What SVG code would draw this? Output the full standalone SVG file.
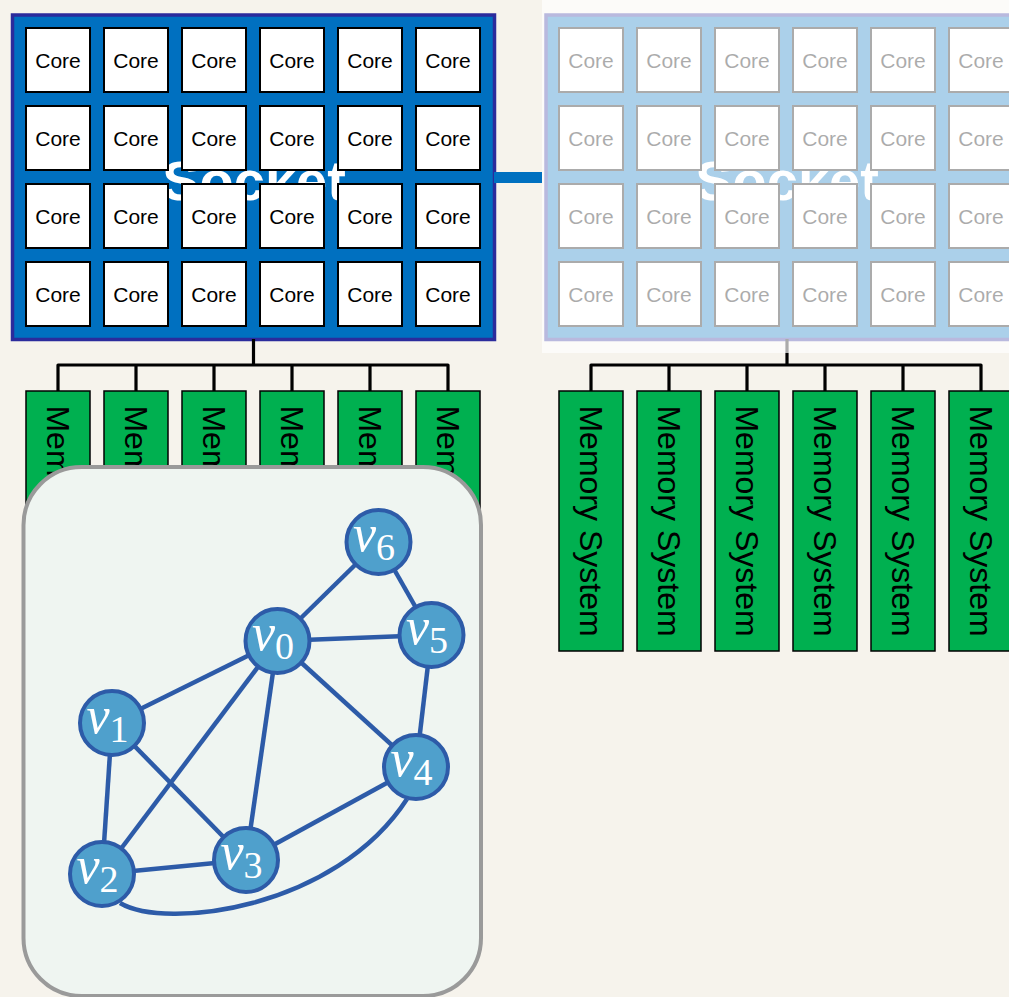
<svg xmlns="http://www.w3.org/2000/svg" width="1009" height="997" viewBox="0 0 1009 997">
<style>
.sock{fill:#0070c0;stroke:#2b2b9c;stroke-width:3.5}
.socktxt{font-family:"Liberation Sans",Arial,sans-serif;font-weight:bold;font-size:56px;fill:#ffffff;text-anchor:middle}
.core rect{fill:#ffffff;stroke:#000000;stroke-width:2}
.core text{font-family:"Liberation Sans",Arial,sans-serif;font-size:21px;fill:#000000;text-anchor:middle}
.mem rect{fill:#00b050;stroke:#000000;stroke-width:1.5}
.mem text{font-family:"Liberation Sans",Arial,sans-serif;font-size:32px;fill:#000000;text-anchor:middle}
.wire{fill:none;stroke:#000000;stroke-width:3.2;stroke-linejoin:round}
.edge{fill:none;stroke:#2d5ba8;stroke-width:4.5}
.gnode circle{fill:#4fa0cc;stroke:#2d5ba8;stroke-width:4}
.gnode text{font-family:"Liberation Serif","Times New Roman",serif;fill:#ffffff;font-size:52px}
.gnode tspan.sub{font-size:38px;font-style:normal}
</style>
<rect x="0" y="0" width="1009" height="997" fill="#f6f3ec"/>

<!-- Right (faded) socket -->
<g id="socket-right">
<rect class="sock" x="546" y="15" width="482" height="324.5"/>
<text class="socktxt" x="787" y="200">Socket</text>
<g class="core">
<rect x="559" y="28" width="64" height="64"/><text x="591" y="68">Core</text>
<rect x="637" y="28" width="64" height="64"/><text x="669" y="68">Core</text>
<rect x="715" y="28" width="64" height="64"/><text x="747" y="68">Core</text>
<rect x="793" y="28" width="64" height="64"/><text x="825" y="68">Core</text>
<rect x="871" y="28" width="64" height="64"/><text x="903" y="68">Core</text>
<rect x="949" y="28" width="64" height="64"/><text x="981" y="68">Core</text>
<rect x="559" y="106" width="64" height="64"/><text x="591" y="146">Core</text>
<rect x="637" y="106" width="64" height="64"/><text x="669" y="146">Core</text>
<rect x="715" y="106" width="64" height="64"/><text x="747" y="146">Core</text>
<rect x="793" y="106" width="64" height="64"/><text x="825" y="146">Core</text>
<rect x="871" y="106" width="64" height="64"/><text x="903" y="146">Core</text>
<rect x="949" y="106" width="64" height="64"/><text x="981" y="146">Core</text>
<rect x="559" y="184" width="64" height="64"/><text x="591" y="224">Core</text>
<rect x="637" y="184" width="64" height="64"/><text x="669" y="224">Core</text>
<rect x="715" y="184" width="64" height="64"/><text x="747" y="224">Core</text>
<rect x="793" y="184" width="64" height="64"/><text x="825" y="224">Core</text>
<rect x="871" y="184" width="64" height="64"/><text x="903" y="224">Core</text>
<rect x="949" y="184" width="64" height="64"/><text x="981" y="224">Core</text>
<rect x="559" y="262" width="64" height="64"/><text x="591" y="302">Core</text>
<rect x="637" y="262" width="64" height="64"/><text x="669" y="302">Core</text>
<rect x="715" y="262" width="64" height="64"/><text x="747" y="302">Core</text>
<rect x="793" y="262" width="64" height="64"/><text x="825" y="302">Core</text>
<rect x="871" y="262" width="64" height="64"/><text x="903" y="302">Core</text>
<rect x="949" y="262" width="64" height="64"/><text x="981" y="302">Core</text>
</g>
</g>

<!-- Left socket -->
<g id="socket-left">
<rect class="sock" x="12.5" y="15" width="482" height="324.5"/>
<text class="socktxt" x="254" y="200">Socket</text>
<g class="core">
<rect x="26" y="28" width="64" height="64"/><text x="58" y="68">Core</text>
<rect x="104" y="28" width="64" height="64"/><text x="136" y="68">Core</text>
<rect x="182" y="28" width="64" height="64"/><text x="214" y="68">Core</text>
<rect x="260" y="28" width="64" height="64"/><text x="292" y="68">Core</text>
<rect x="338" y="28" width="64" height="64"/><text x="370" y="68">Core</text>
<rect x="416" y="28" width="64" height="64"/><text x="448" y="68">Core</text>
<rect x="26" y="106" width="64" height="64"/><text x="58" y="146">Core</text>
<rect x="104" y="106" width="64" height="64"/><text x="136" y="146">Core</text>
<rect x="182" y="106" width="64" height="64"/><text x="214" y="146">Core</text>
<rect x="260" y="106" width="64" height="64"/><text x="292" y="146">Core</text>
<rect x="338" y="106" width="64" height="64"/><text x="370" y="146">Core</text>
<rect x="416" y="106" width="64" height="64"/><text x="448" y="146">Core</text>
<rect x="26" y="184" width="64" height="64"/><text x="58" y="224">Core</text>
<rect x="104" y="184" width="64" height="64"/><text x="136" y="224">Core</text>
<rect x="182" y="184" width="64" height="64"/><text x="214" y="224">Core</text>
<rect x="260" y="184" width="64" height="64"/><text x="292" y="224">Core</text>
<rect x="338" y="184" width="64" height="64"/><text x="370" y="224">Core</text>
<rect x="416" y="184" width="64" height="64"/><text x="448" y="224">Core</text>
<rect x="26" y="262" width="64" height="64"/><text x="58" y="302">Core</text>
<rect x="104" y="262" width="64" height="64"/><text x="136" y="302">Core</text>
<rect x="182" y="262" width="64" height="64"/><text x="214" y="302">Core</text>
<rect x="260" y="262" width="64" height="64"/><text x="292" y="302">Core</text>
<rect x="338" y="262" width="64" height="64"/><text x="370" y="302">Core</text>
<rect x="416" y="262" width="64" height="64"/><text x="448" y="302">Core</text>
</g>
</g>

<!-- Connectors -->
<g id="connectors">
<line x1="494" y1="177.5" x2="542" y2="177.5" stroke="#0070c0" stroke-width="11"/>
<path class="wire" d="M253.5,339 V365 M58,391 V365 H448 V391 M136,365 V391 M214,365 V391 M292,365 V391 M370,365 V391"/>
<path class="wire" d="M787,339 V365 M591,391 V365 H981 V391 M669,365 V391 M747,365 V391 M825,365 V391 M903,365 V391"/>
</g>

<!-- fade overlay for the right socket -->
<rect x="542" y="0" width="467" height="353" fill="#ffffff" fill-opacity="0.67"/>

<!-- Memory systems -->
<g id="memory-left" class="mem">
<rect x="26" y="391" width="64" height="260"/><text transform="translate(46.5,521) rotate(90)">Memory System</text>
<rect x="104" y="391" width="64" height="260"/><text transform="translate(124.5,521) rotate(90)">Memory System</text>
<rect x="182" y="391" width="64" height="260"/><text transform="translate(202.5,521) rotate(90)">Memory System</text>
<rect x="260" y="391" width="64" height="260"/><text transform="translate(280.5,521) rotate(90)">Memory System</text>
<rect x="338" y="391" width="64" height="260"/><text transform="translate(358.5,521) rotate(90)">Memory System</text>
<rect x="416" y="391" width="64" height="260"/><text transform="translate(436.5,521) rotate(90)">Memory System</text>
</g>
<g id="memory-right" class="mem">
<rect x="559" y="391" width="64" height="260"/><text transform="translate(579.5,521) rotate(90)">Memory System</text>
<rect x="637" y="391" width="64" height="260"/><text transform="translate(657.5,521) rotate(90)">Memory System</text>
<rect x="715" y="391" width="64" height="260"/><text transform="translate(735.5,521) rotate(90)">Memory System</text>
<rect x="793" y="391" width="64" height="260"/><text transform="translate(813.5,521) rotate(90)">Memory System</text>
<rect x="871" y="391" width="64" height="260"/><text transform="translate(891.5,521) rotate(90)">Memory System</text>
<rect x="949" y="391" width="64" height="260"/><text transform="translate(969.5,521) rotate(90)">Memory System</text>
</g>

<!-- Graph panel -->
<g id="graph-panel">
<rect x="23.5" y="467" width="457.5" height="529" rx="58" ry="58" fill="#eff5f1" stroke="#9a9a9a" stroke-width="4"/>
</g>

<g id="graph-edges">
<line class="edge" x1="277.5" y1="641" x2="378.5" y2="542"/>
<line class="edge" x1="378.5" y1="542" x2="431.5" y2="635"/>
<line class="edge" x1="277.5" y1="641" x2="431.5" y2="635"/>
<line class="edge" x1="277.5" y1="641" x2="112" y2="723"/>
<line class="edge" x1="277.5" y1="641" x2="102" y2="874"/>
<line class="edge" x1="277.5" y1="641" x2="246" y2="860"/>
<line class="edge" x1="277.5" y1="641" x2="416" y2="767"/>
<line class="edge" x1="431.5" y1="635" x2="416" y2="767"/>
<line class="edge" x1="112" y1="723" x2="102" y2="874"/>
<line class="edge" x1="112" y1="723" x2="246" y2="860"/>
<line class="edge" x1="102" y1="874" x2="246" y2="860"/>
<line class="edge" x1="246" y1="860" x2="416" y2="767"/>
<path class="edge" d="M120,903 C165,930 335,910 407,799"/>
</g>

<g id="v0" class="gnode"><circle cx="277.5" cy="641" r="32"/><text x="252" y="650"><tspan font-style="italic">v</tspan><tspan class="sub" dy="9">0</tspan></text></g>
<g id="v1" class="gnode"><circle cx="112" cy="723" r="32"/><text x="86.5" y="733"><tspan font-style="italic">v</tspan><tspan class="sub" dy="9">1</tspan></text></g>
<g id="v2" class="gnode"><circle cx="102" cy="874" r="32"/><text x="76.5" y="883"><tspan font-style="italic">v</tspan><tspan class="sub" dy="9">2</tspan></text></g>
<g id="v3" class="gnode"><circle cx="246" cy="860" r="32"/><text x="220.5" y="869"><tspan font-style="italic">v</tspan><tspan class="sub" dy="9">3</tspan></text></g>
<g id="v4" class="gnode"><circle cx="416" cy="767" r="32"/><text x="390.5" y="776"><tspan font-style="italic">v</tspan><tspan class="sub" dy="9">4</tspan></text></g>
<g id="v5" class="gnode"><circle cx="431.5" cy="635" r="32"/><text x="406" y="644"><tspan font-style="italic">v</tspan><tspan class="sub" dy="9">5</tspan></text></g>
<g id="v6" class="gnode"><circle cx="378.5" cy="542" r="32"/><text x="353" y="551"><tspan font-style="italic">v</tspan><tspan class="sub" dy="9">6</tspan></text></g>
</svg>
